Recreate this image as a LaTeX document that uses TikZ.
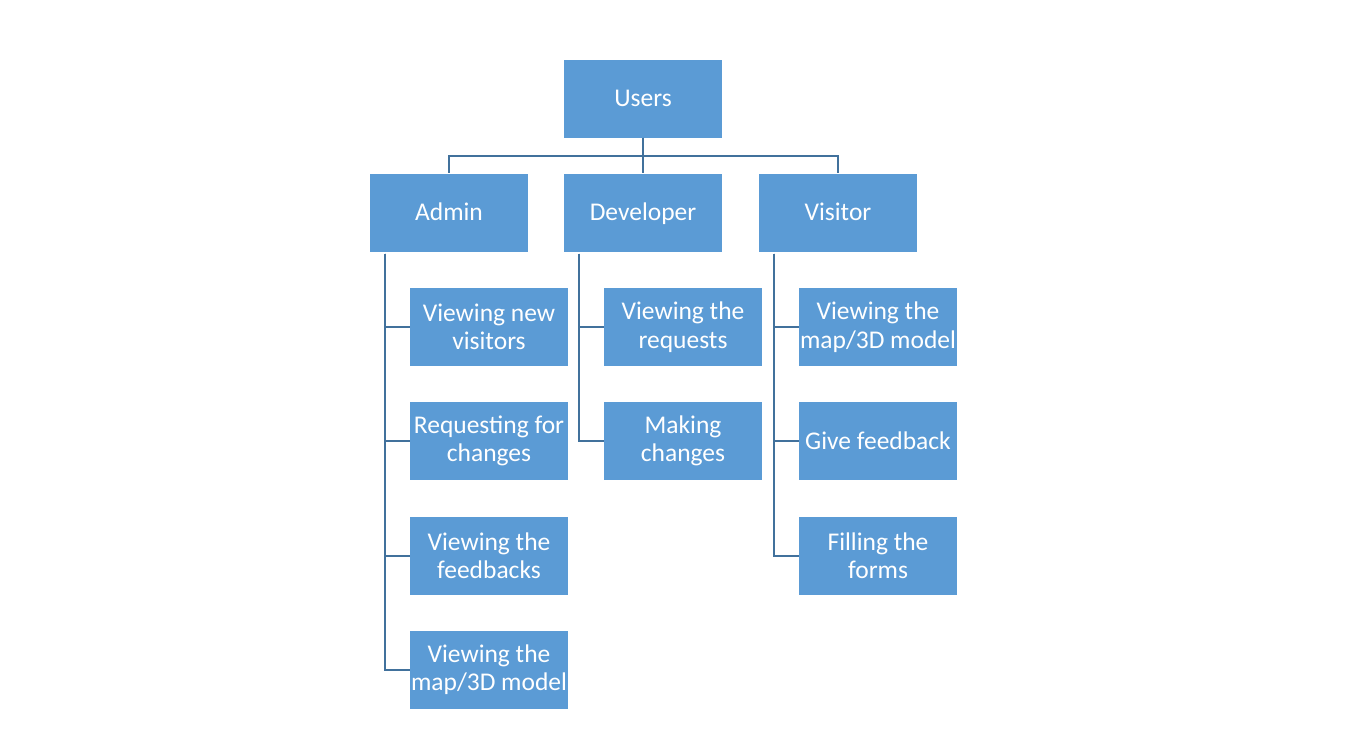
\documentclass[tikz,border=0pt]{standalone}
\usepackage{fontspec}
\setmainfont{Carlito}
\definecolor{boxfill}{HTML}{5B9BD5}
\definecolor{linkcol}{HTML}{41719C}
\begin{document}
\begin{tikzpicture}[x=1pt,y=-1pt]
    \tikzstyle{every node}=[fill=boxfill,text=white,minimum width=158pt,minimum height=78pt,inner sep=0pt,align=center,font=\fontsize{25.5}{28.5}\selectfont];
    \tikzstyle{oneline}=[text height=20pt,text depth=4pt];
    \tikzstyle{link}=[draw=linkcol,line width=2pt];
    \useasboundingbox (0,0) rectangle (1354,753);
    \node at (643, 98.5)  (users) [oneline] {Users};
    \node at (449, 212.5) (admin) [oneline] {Admin};
    \node at (643, 212.5) (dev) [oneline] {Developer};
    \node at (838, 212.5) (visitor) [oneline] {Visitor};
    % admin tasks
    \node at (489, 327)   (a1) {Viewing new\\visitors};
    \node at (489, 441)   (a2) {Requesting for\\changes};
    \node at (489, 555.5) (a3) {Viewing the\\feedbacks};
    \node at (489, 669.5) (a4) {Viewing the\\map/3D model};
    % developer tasks
    \node at (683, 327)   (d1) {Viewing the\\requests};
    \node at (683, 441)   (d2) {Making\\changes};
    % visitor tasks
    \node at (878, 327)   (v1) {Viewing the\\map/3D model};
    \node at (878, 441)   (v2) [oneline] {Give feedback};
    \node at (878, 555.5) (v3) {Filling the\\forms};

    \draw[link] (users.south) -- ++(0,18) -| (admin.north);
    \draw[link] (users.south) -- (dev.north);
    \draw[link] (users.south) -- ++(0,18) -| (visitor.north);
    \draw[link] ([xshift=15pt,yshift=-2pt]admin.south west) |- (a1.west);
    \draw[link] ([xshift=15pt,yshift=-2pt]admin.south west) |- (a2.west);
    \draw[link] ([xshift=15pt,yshift=-2pt]admin.south west) |- (a3.west);
    \draw[link] ([xshift=15pt,yshift=-2pt]admin.south west) |- (a4.west);
    \draw[link] ([xshift=15pt,yshift=-2pt]dev.south west) |- (d1.west);
    \draw[link] ([xshift=15pt,yshift=-2pt]dev.south west) |- (d2.west);
    \draw[link] ([xshift=15pt,yshift=-2pt]visitor.south west) |- (v1.west);
    \draw[link] ([xshift=15pt,yshift=-2pt]visitor.south west) |- (v2.west);
    \draw[link] ([xshift=15pt,yshift=-2pt]visitor.south west) |- (v3.west);
\end{tikzpicture}
\end{document}
